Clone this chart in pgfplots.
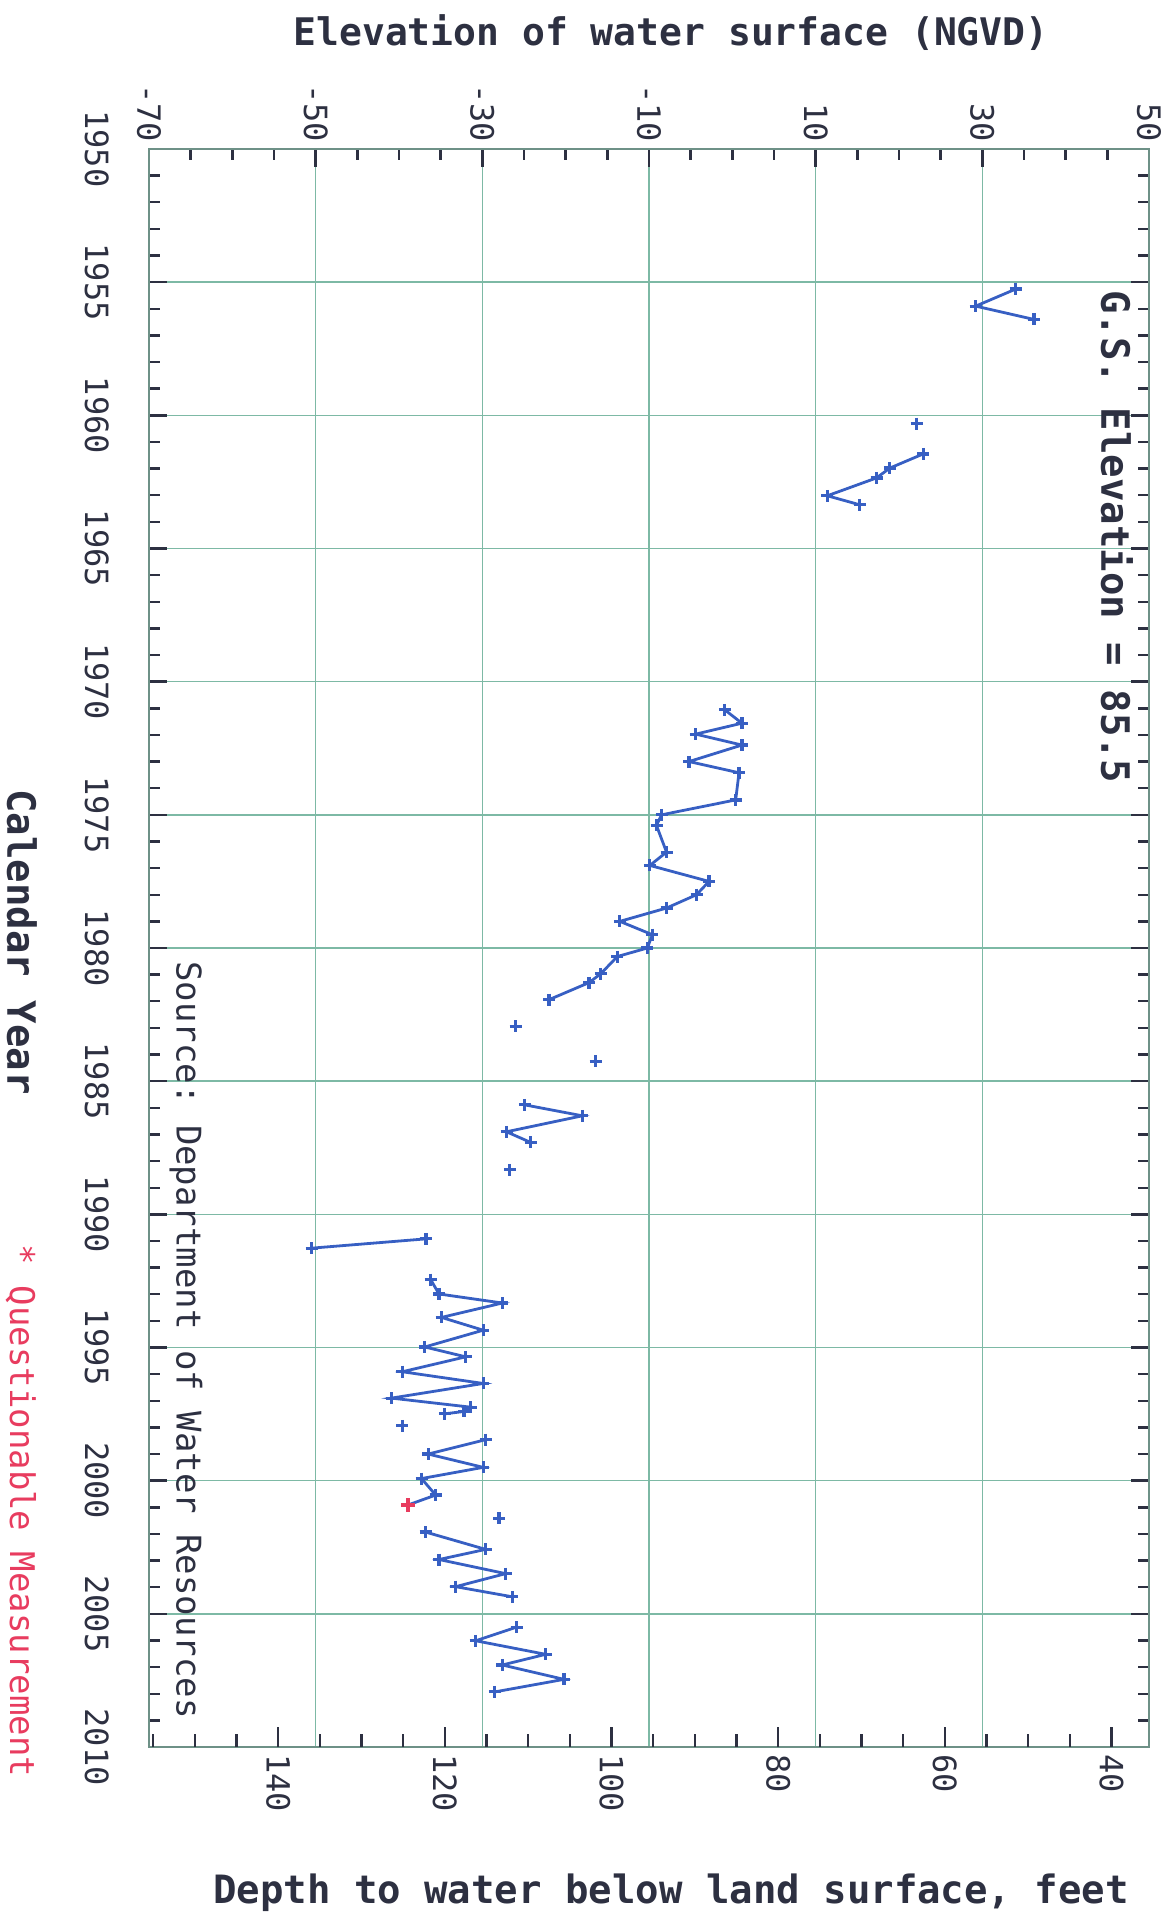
\documentclass[border=0pt]{standalone}
\usepackage{pgfplots}
\pgfplotsset{compat=1.18}
\usepackage{fontspec}
\setmonofont{DejaVu Sans Mono}
\definecolor{dblue}{RGB}{55,95,195}
\definecolor{gridc}{RGB}{125,185,165}
\definecolor{framec}{RGB}{110,145,135}
\definecolor{txt}{RGB}{45,48,65}
\definecolor{qred}{RGB}{232,60,95}
\begin{document}
\begin{tikzpicture}
\pgfplotsset{
  dser/.style={color=dblue, line width=1.4pt, mark=+, mark size=3pt, mark options={line width=1.6pt}},
}
\begin{axis}[
  at={(0,0)}, anchor=south west, scale only axis, width=500pt, height=799pt,
  xmin=-70, xmax=50, ymin=1950, ymax=2010, y dir=reverse,
  xtick={-70,-50,-30,-10,10,30,50},
  xticklabels={{-70},{-50},{-30},{-10},{10},{30},{50}},
  minor x tick num=3,
  xtick pos=right, xticklabel pos=right,
  ytick={1950,1955,...,2010},
  yticklabels={1950,1955,1960,1965,1970,1975,1980,1985,1990,1995,2000,2005,2010},
  minor y tick num=4,
  ytick pos=both, yticklabel pos=left,
  tick align=inside,
  major tick length=9pt, minor tick length=5.5pt,
  grid=major, major grid style={gridc, line width=0.8pt},
  axis line style={framec, line width=1.2pt},
  every tick/.style={txt, line width=1.2pt},
  xticklabel style={rotate=-90, anchor=east, font=\ttfamily\fontsize{16}{16}\selectfont, text=txt},
  yticklabel style={rotate=-90, anchor=north, font=\ttfamily\fontsize{16}{16}\selectfont, text=txt, yshift=-16.5pt},
  clip=false,
]
\addplot[dser] coordinates {(34.0,1955.26) (29.2,1955.9) (36.2,1956.4)};
\addplot[dser] coordinates {(22.1,1960.31)};
\addplot[dser] coordinates {(22.9,1961.45) (18.9,1961.98) (17.3,1962.35) (11.4,1963.02) (15.3,1963.36)};
\addplot[dser] coordinates {(-0.9,1971.06) (1.15,1971.56) (-4.4,1971.97) (1.15,1972.38) (-5.2,1973.0) (0.8,1973.42) (0.4,1974.44) (-8.5,1975.0) (-9.1,1975.4) (-7.9,1976.4) (-9.9,1976.9) (-2.8,1977.5) (-4.3,1978.0) (-7.9,1978.5) (-13.5,1979.0) (-9.6,1979.5) (-10.2,1980.0) (-13.8,1980.32) (-15.8,1980.97) (-17.2,1981.3) (-22.0,1981.94)};
\addplot[dser] coordinates {(-26.0,1982.94)};
\addplot[dser] coordinates {(-16.4,1984.26)};
\addplot[dser] coordinates {(-24.9,1985.89) (-18.0,1986.3) (-27.1,1986.9) (-24.2,1987.3)};
\addplot[dser] coordinates {(-26.7,1988.33)};
\addplot[dser] coordinates {(-36.75,1990.92) (-50.5,1991.27)};
\addplot[dser] coordinates {(-36.2,1992.45) (-35.2,1992.99) (-27.6,1993.33) (-34.9,1993.87) (-29.9,1994.35) (-36.9,1994.98) (-32.0,1995.35) (-39.6,1995.91) (-29.9,1996.35) (-40.9,1996.9) (-31.4,1997.24) (-32.2,1997.4) (-34.5,1997.49)};
\addplot[dser] coordinates {(-39.6,1997.94)};
\addplot[dser] coordinates {(-29.6,1998.46) (-36.5,1999.0) (-29.9,1999.5) (-37.3,1999.92) (-35.6,2000.54) (-38.9,2000.91)};
\addplot[only marks, mark=+, mark size=3.4pt, mark options={line width=2pt, color=qred}] coordinates {(-38.9,2000.91)};
\addplot[dser] coordinates {(-28.0,2001.41)};
\addplot[dser] coordinates {(-36.8,2001.93) (-29.6,2002.58) (-35.2,2002.96) (-27.2,2003.49) (-33.2,2003.98) (-26.4,2004.36)};
\addplot[dser] coordinates {(-25.9,2005.5) (-30.8,2006.01) (-22.4,2006.52) (-27.6,2006.92) (-20.2,2007.46) (-28.5,2007.93)};
\end{axis}
\begin{axis}[
  at={(0,0)}, anchor=south west, scale only axis, width=500pt, height=799pt,
  xmin=35.5, xmax=155.5, x dir=reverse, ymin=0, ymax=1,
  xtick={40,60,...,140},
  xticklabels={40,60,80,100,120,140},
  minor xtick={40,45,...,155},
  xtick pos=left, xticklabel pos=left,
  ytick=\empty,
  axis line style={draw=none},
  tick align=inside,
  major tick length=10pt, minor tick length=6.5pt,
  every tick/.style={txt, line width=1.2pt},
  xticklabel style={rotate=-90, anchor=west, font=\ttfamily\fontsize{16}{16}\selectfont, text=txt},
]
\end{axis}
\node[font=\ttfamily\bfseries\fontsize{19}{19}\selectfont, text=txt] at (261pt,857pt) {Elevation of water surface (NGVD)};
\node[font=\ttfamily\bfseries\fontsize{19.5}{19.5}\selectfont, text=txt] at (261pt,-73pt) {Depth to water below land surface, feet};
\node[rotate=-90, font=\ttfamily\bfseries\fontsize{19.5}{19.5}\selectfont, text=txt] at (-63.5pt,402.5pt) {Calendar Year};
\node[rotate=-90, font=\ttfamily\fontsize{17}{17}\selectfont, text=qred] at (-64pt,118pt) {* Questionable Measurement};
\node[rotate=-90, font=\ttfamily\bfseries\fontsize{19.5}{19.5}\selectfont, text=txt] at (484pt,605pt) {G.S. Elevation = 85.5};
\node[rotate=-90, font=\ttfamily\fontsize{17}{17}\selectfont, text=txt] at (18.5pt,203.5pt) {Source: Department of Water Resources};
\pgfresetboundingbox
\path (-74.5pt,-84pt) rectangle (508pt,873.5pt);
\end{tikzpicture}
\end{document}
